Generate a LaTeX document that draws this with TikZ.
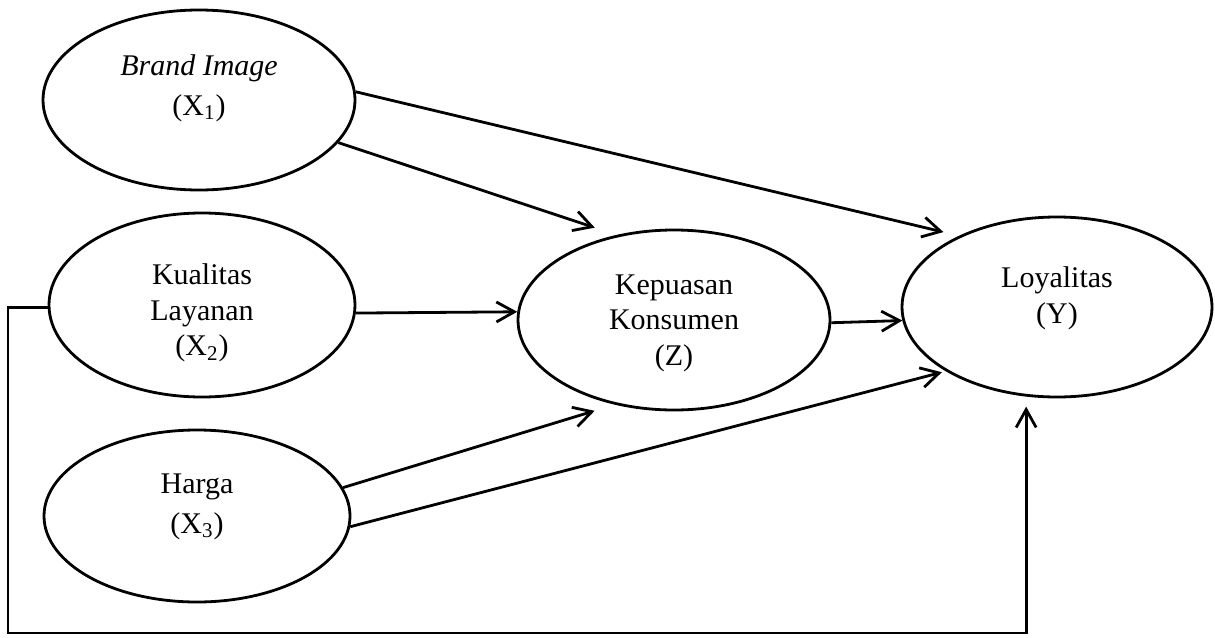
\documentclass[tikz,border=0pt]{standalone}
\usepackage{fontspec}
\setmainfont{Liberation Serif}
\usetikzlibrary{shapes.geometric,arrows.meta}

\tikzset{
  var/.style={draw, ellipse, line width=1.4pt, minimum width=155pt, minimum height=90pt, inner sep=0pt},
  lbl/.style={align=center, font=\fontsize{15}{17.8}\selectfont},
  arr/.style={-{Straight Barb[length=9pt,width=10pt]}, line width=1.4pt},
}

\begin{document}
\begin{tikzpicture}[x=0.5pt,y=-0.5pt]
        \useasboundingbox (0,0) rectangle (1215,637);
        % variabel
        \node[var, minimum width=156pt, label={[lbl,yshift=6pt]center:\textit{Brand Image}\\[2pt](X\textsubscript{1})}] (x1) at (199,100) {};
        \node[var, minimum width=153pt, minimum height=92pt, label={[lbl,yshift=-4pt]center:Kualitas\\Layanan\\(X\textsubscript{2})}] (x2) at (202,305) {};
        \node[var, minimum width=153pt, minimum height=86pt, label={[lbl,yshift=4.5pt]center:Harga\\[2pt](X\textsubscript{3})}] (x3) at (197,516) {};
        \node[var, minimum width=156pt, label={[lbl,yshift=-1.5pt]center:Kepuasan\\Konsumen\\(Z)}] (z) at (674,320) {};
        \node[var, label={[lbl,yshift=4.5pt]center:Loyalitas\\(Y)}] (y) at (1057,307) {};
        \coordinate (sudut) at (8,633);
        % panah
        \draw[arr, shorten >=8pt] (x1.3) -- (y.144);
        \draw[arr, shorten >=11.5pt] (x1.-17) -- (z.124);
        \draw[arr] (x2.-3) -- (z.177);
        \draw[arr] (z.-1) -- (y.185);
        \draw[arr, shorten >=10.5pt] (x3.11) -- (z.235);
        \draw[arr, shorten >=2pt] (x3.-4) -- (y.210);
        \draw[arr, shorten >=5pt] (x2.181) -| (sudut) -| (y.251);
\end{tikzpicture}
\end{document}
